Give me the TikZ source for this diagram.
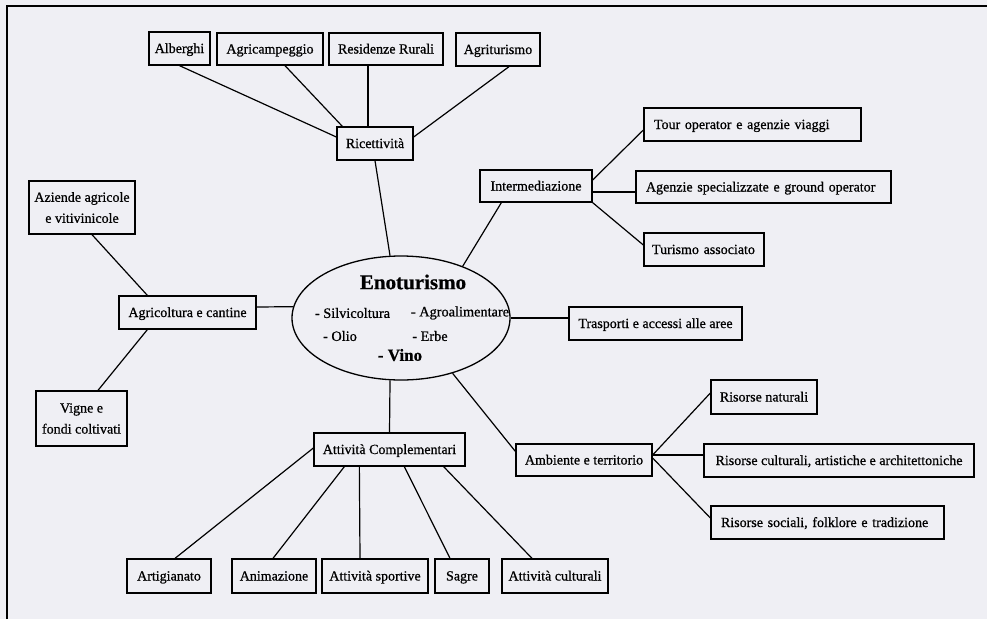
\documentclass[tikz,border=0pt]{standalone}
\usepackage{fontspec}
\setmainfont{Liberation Serif}[FakeBold=0.7]
\usetikzlibrary{calc,shapes.geometric}
\definecolor{bgc}{RGB}{239,239,244}
\tikzset{
  box/.style={draw=black, line width=1.3pt, rectangle, inner sep=0pt, align=center,
    font=\fontsize{14}{21}\selectfont},
  sbox/.style={box, text height=10pt, text depth=1pt},
  lbox/.style={sbox, align=left},
  conn/.style={draw=black, line width=1.2pt},
  etext/.style={inner sep=0pt, font=\fontsize{14.3}{17}\selectfont},
}
\begin{document}
\begin{tikzpicture}[x=1pt,y=-1pt]
\fill[bgc] (0,0) rectangle (987,619);
\useasboundingbox (0,0) rectangle (987,619);
\draw[line width=2.2pt] (7,619) -- (7,6) -- (987,6);

% top row
\node[sbox, minimum width=61, minimum height=33] (alb) at (179.5,48.5) {Alberghi};
\node[sbox, minimum width=106, minimum height=32] (agc) at (270,49) {Agricampeggio};
\node[sbox, minimum width=114, minimum height=32] (res) at (386,49) {Residenze Rurali};
\node[sbox, minimum width=84, minimum height=33] (agr) at (498,49.5) {Agriturismo};
\node[sbox, minimum width=76, minimum height=33] (ric) at (375,143.5) {Ricettività};

% left
\node[box, minimum width=106, minimum height=53] (azi) at (82,207.5) {Aziende agricole\\e vitivinicole};
\node[sbox, minimum width=137, minimum height=33] (agrc) at (187.5,312.5) {Agricoltura e cantine};
\node[box, minimum width=91, minimum height=55] (vig) at (81.5,418.5) {Vigne e\\fondi coltivati};

% centre ellipse
\node[draw=black, line width=1.3pt, ellipse, minimum width=218, minimum height=124, inner sep=0pt] (eno) at (401,318) {};
\node[inner sep=0pt, font=\bfseries\fontsize{21}{24}\selectfont] (enot) at (413,282) {Enoturismo};
\node[etext] (silv) at (352.5,313) {- Silvicoltura};
\node[etext] (agro) at (460,313) {- Agroalimentare};
\node[etext] (olio) at (340,336) {- Olio};
\node[etext] (erbe) at (430,336) {- Erbe};
\node[inner sep=0pt, font=\bfseries\fontsize{17}{19}\selectfont] (vino) at (400,355) {- Vino};

% intermediazione
\node[sbox, minimum width=112, minimum height=32] (int) at (536,186) {Intermediazione};
\node[lbox, inner xsep=10pt, text width=197, minimum height=33] (tour) at (752.5,124.5) {Tour operator e agenzie viaggi};
\node[lbox, inner xsep=10pt, text width=235, minimum height=32] (agz) at (763.5,187) {Agenzie specializzate e ground operator};
\node[lbox, inner xsep=8pt, text width=104, minimum height=33] (tur) at (704,249.5) {Turismo associato};
\node[sbox, minimum width=173, minimum height=33] (tra) at (655.5,323.5) {Trasporti e accessi alle aree};

% attivita complementari
\node[sbox, minimum width=151, minimum height=33] (ac) at (389.5,449.5) {Attività Complementari};
\node[sbox, minimum width=84, minimum height=34] (art) at (169,576) {Artigianato};
\node[sbox, minimum width=84, minimum height=34] (ani) at (274,576) {Animazione};
\node[sbox, minimum width=106, minimum height=34] (spo) at (375,576) {Attività sportive};
\node[sbox, minimum width=54, minimum height=34] (sag) at (462,576) {Sagre};
\node[sbox, minimum width=106, minimum height=34] (cul) at (555,576) {Attività culturali};

% ambiente
\node[sbox, minimum width=136, minimum height=32] (amb) at (584,460) {Ambiente e territorio};
\node[sbox, minimum width=106, minimum height=34] (rn) at (764,397) {Risorse naturali};
\node[sbox, minimum width=270, minimum height=33] (rc) at (839,460.5) {Risorse culturali, artistiche e architettoniche};
\node[lbox, inner xsep=10pt, text width=213, minimum height=33] (rs) at (827.5,522.5) {Risorse sociali, folklore e tradizione};

% connectors
\draw[conn] (alb.south) -- ($(ric.west)+(0,-6.5)$);
\draw[conn] ($(agc.south)+(15,0)$) -- ($(ric.north west)+(6,0)$);
\draw[conn] ($(res.south)+(-18,0)$) -- ($(ric.north)+(-7,0)$);
\draw[conn] ($(agr.south)+(11,0)$) -- ($(ric.east)+(0,-6.5)$);
\draw[conn] (ric.south) -- (eno.100);
\draw[conn] ($(int.south west)+(22,0)$) -- (eno.40);
\draw[conn] ($(int.east)+(0,-6)$) -- ($(tour.west)+(0,5.5)$);
\draw[conn] ($(int.east)+(0,6)$) -- ($(agz.west)+(0,5)$);
\draw[conn] (int.south east) -- ($(tur.west)+(0,-4.5)$);
\draw[conn] ($(azi.south)+(10,0)$) -- ($(agrc.north west)+(29,0)$);
\draw[conn] ($(agrc.east)+(0,-5.5)$) -- (eno.174);
\draw[conn] ($(agrc.south west)+(29,0)$) -- ($(vig.north)+(16.5,0)$);
\draw[conn] (eno.east) -- ($(tra.west)+(0,-5.5)$);
\draw[conn] (eno.260) -- (ac.north);
\draw[conn] (eno.313) -- ($(amb.north west)+(0,8)$);
\draw[conn] ($(ac.west)+(0,-1.5)$) -- ($(art.north)+(6,0)$);
\draw[conn] ($(ac.south west)+(31,0)$) -- ($(ani.north)+(-1,0)$);
\draw[conn] ($(ac.south west)+(46,0)$) -- ($(spo.north)+(-15,0)$);
\draw[conn] ($(ac.south west)+(91,0)$) -- ($(sag.north)+(-12,0)$);
\draw[conn] ($(ac.south east)+(-22,0)$) -- ($(cul.north)+(-23,0)$);
\draw[conn] ($(amb.east)+(0,-5)$) -- ($(rn.west)+(0,-4)$);
\draw[conn] ($(amb.east)+(0,-5)$) -- ($(rc.west)+(0,-5.5)$);
\draw[conn] ($(amb.east)+(0,-2)$) -- ($(rs.west)+(0,-4.5)$);
\end{tikzpicture}
\end{document}
